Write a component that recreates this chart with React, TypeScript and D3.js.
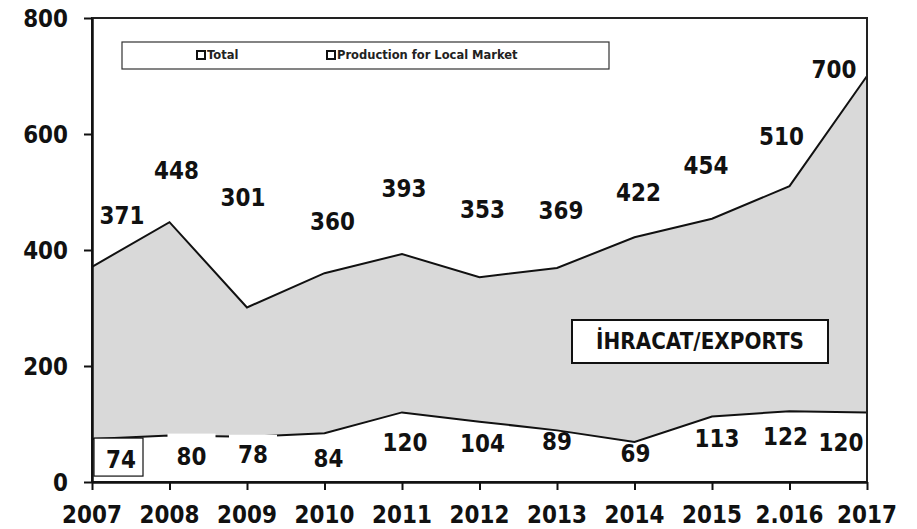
import { useEffect, useRef } from "react";
import * as d3 from "d3";

const years = ["2007", "2008", "2009", "2010", "2011", "2012", "2013", "2014", "2015", "2.016", "2017"];
const total = [371, 448, 301, 360, 393, 353, 369, 422, 454, 510, 700];
const local = [74, 80, 78, 84, 120, 104, 89, 69, 113, 122, 120];
const yTicks = [0, 200, 400, 600, 800];
const legendItems = ["Total", "Production for Local Market"];

// label nudges, px from the data point
const totalOffsets = [[30, -51], [7, -52], [-4, -110], [8, -52], [2, -66], [3, -68], [4, -58], [4, -45], [-6, -53], [-8, -50], [-33, -7]];
const localOffsets = [[29, 20], [22, 21], [6, 18], [4, 25], [3, 30], [3, 22], [0, 11], [1, 11], [5, 22], [-4, 25], [-26, 30]];

function App() {
  const ref = useRef<SVGSVGElement>(null);
  const width = 917;
  const height = 529;
  const m = { left: 92, right: 867, top: 18, bottom: 482 };
  const font = "'DejaVu Sans', Verdana, sans-serif";

  useEffect(() => {
    const svg = d3.select(ref.current);
    svg.selectAll("*").remove();

    const x = d3.scalePoint().domain(years).range([m.left, m.right]);
    const y = d3.scaleLinear().domain([0, 800]).range([m.bottom, m.top]);

    const exportsArea = d3
      .area<number>()
      .x((_, i) => x(years[i]) as number)
      .y0((_, i) => y(local[i]))
      .y1((d) => y(d));

    svg.append("path").datum(total).attr("d", exportsArea).attr("fill", "#d9d9d9");

    const line = d3
      .line<number>()
      .x((_, i) => x(years[i]) as number)
      .y((d) => y(d));

    svg.append("path").datum(total).attr("d", line).attr("fill", "none").attr("stroke", "#111").attr("stroke-width", 2);
    svg.append("path").datum(local).attr("d", line).attr("fill", "none").attr("stroke", "#111").attr("stroke-width", 2);

    // white label backgrounds for 80 and 78 sit over the line
    [1, 2].forEach((i) => {
      const cx = (x(years[i]) as number) + localOffsets[i][0];
      svg.append("rect").attr("x", cx - 24).attr("y", y(local[i]) - 2).attr("width", 48).attr("height", 40).attr("fill", "#fff");
    });
    {
      const cx = (x(years[0]) as number) + localOffsets[0][0];
      svg.append("rect").attr("x", cx - 27).attr("y", y(local[0]) - 1).attr("width", 49).attr("height", 38)
        .attr("fill", "#fff").attr("stroke", "#111").attr("stroke-width", 1.2);
    }

    // frame
    svg.append("rect").attr("x", m.left).attr("y", m.top).attr("width", m.right - m.left).attr("height", m.bottom - m.top)
      .attr("fill", "none").attr("stroke", "#222").attr("stroke-width", 2);

    const xAxis = svg.append("g").attr("transform", `translate(0,${m.bottom})`).call(d3.axisBottom(x).tickSize(8).tickSizeOuter(0));
    xAxis.select(".domain").attr("stroke", "#111").attr("stroke-width", 2.5);
    xAxis.selectAll(".tick line").attr("stroke", "#111").attr("stroke-width", 2);
    xAxis.selectAll(".tick text").remove();

    const yAxis = svg.append("g").attr("transform", `translate(${m.left},0)`).call(d3.axisLeft(y).tickValues(yTicks).tickSize(8).tickSizeOuter(0));
    yAxis.select(".domain").attr("stroke", "#111").attr("stroke-width", 2.5);
    yAxis.selectAll(".tick line").attr("stroke", "#111").attr("stroke-width", 2);
    yAxis.selectAll(".tick text").remove();

    const bold = (tx: number, ty: number, t: string, size: number, anchor = "middle") =>
      svg
        .append("text")
        .attr("transform", `translate(${tx},${ty}) scale(1,1.15)`)
        .attr("text-anchor", anchor)
        .attr("dominant-baseline", "central")
        .attr("font-family", font)
        .attr("font-weight", "bold")
        .attr("font-size", size)
        .attr("fill", "#111")
        .text(t);

    yTicks.forEach((t) => bold(68, y(t), String(t), 21.5, "end"));
    years.forEach((yr) => bold(x(yr) as number, 514, yr, 21.5));

    total.forEach((v, i) => bold((x(years[i]) as number) + totalOffsets[i][0], y(v) + totalOffsets[i][1], String(v), 21.5));
    local.forEach((v, i) => bold((x(years[i]) as number) + localOffsets[i][0], y(v) + localOffsets[i][1], String(v), 21.5));

    // legend
    svg.append("rect").attr("x", 122).attr("y", 42).attr("width", 487).attr("height", 27).attr("fill", "#fff").attr("stroke", "#333").attr("stroke-width", 1.2);
    const legendX = [197, 327];
    legendItems.forEach((t, i) => {
      svg.append("rect").attr("x", legendX[i]).attr("y", 51).attr("width", 8).attr("height", 8).attr("fill", "#fff").attr("stroke", "#111").attr("stroke-width", 2);
      svg.append("text").attr("x", legendX[i] + 10).attr("y", 55).attr("dominant-baseline", "central")
        .attr("font-family", font).attr("font-weight", "bold").attr("font-size", 11.5).attr("fill", "#222").text(t);
    });

    // exports annotation
    svg.append("rect").attr("x", 572).attr("y", 320).attr("width", 256).attr("height", 43).attr("fill", "#fff").attr("stroke", "#111").attr("stroke-width", 2);
    bold(700, 341, "İHRACAT/EXPORTS", 20);
  }, []);

  return (
    <svg ref={ref} width={width} height={height} style={{ position: "absolute", left: 0, top: 0, background: "#fff" }} />
  );
}

export default App;
